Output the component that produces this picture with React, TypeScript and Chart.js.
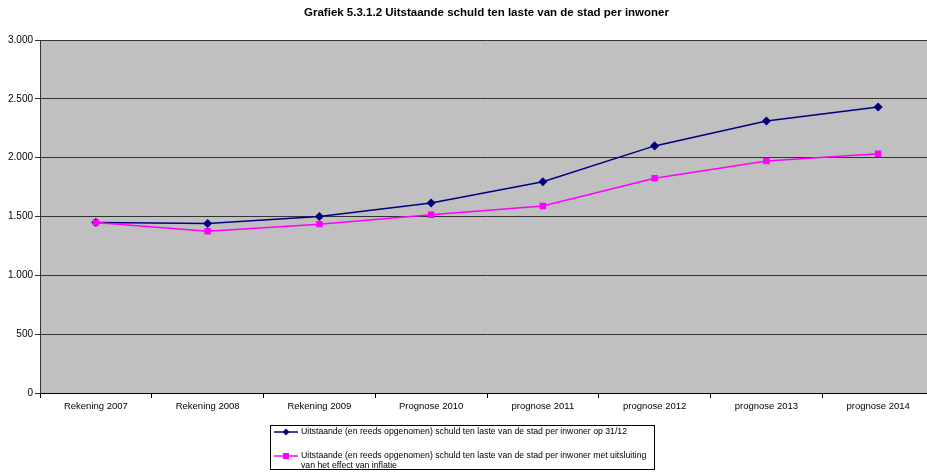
import React, { useEffect, useRef } from "react";
import { Chart, registerables } from "chart.js";

Chart.register(...registerables);

const titleText = "Grafiek 5.3.1.2 Uitstaande schuld ten laste van de stad per inwoner";
const categories = [
  "Rekening 2007",
  "Rekening 2008",
  "Rekening 2009",
  "Prognose 2010",
  "prognose 2011",
  "prognose 2012",
  "prognose 2013",
  "prognose 2014",
];
const debtPerInhabitant = [1450, 1440, 1500, 1615, 1795, 2100, 2312, 2431];
const debtExclInflation = [1448, 1375, 1435, 1515, 1590, 1825, 1972, 2034];
const legendLabels: string[][] = [
  ["Uitstaande (en reeds opgenomen) schuld ten laste van de stad per inwoner op 31/12"],
  [
    "Uitstaande (en reeds opgenomen) schuld ten laste van de stad per inwoner met uitsluiting",
    "van het effect van inflatie",
  ],
];
const yMin = 0;
const yMax = 3000;
const yStep = 500;

const FONT = "'Liberation Sans', Arial, sans-serif";
const NAVY = "#000080";
const MAGENTA = "#ff00ff";

const fmt = (v: number) => String(v).replace(/\B(?=(\d{3})+(?!\d))/g, ".");

const plotBg = {
  id: "plotBg",
  beforeDraw(chart: any) {
    const { ctx, chartArea } = chart;
    ctx.save();
    ctx.fillStyle = "#c0c0c0";
    ctx.fillRect(chartArea.left, chartArea.top, chartArea.right - chartArea.left, chartArea.bottom - chartArea.top);
    ctx.restore();
  },
};

const centeredTitle = {
  id: "centeredTitle",
  afterDraw(chart: any) {
    const { ctx } = chart;
    ctx.save();
    ctx.fillStyle = "#000";
    ctx.font = `bold 11.5px ${FONT}`;
    ctx.textAlign = "center";
    ctx.textBaseline = "middle";
    ctx.fillText(titleText, 486.5, 13);
    ctx.restore();
  },
};

function drawMarker(ctx: CanvasRenderingContext2D, style: string, x: number, y: number, r: number, color: string) {
  ctx.fillStyle = color;
  ctx.beginPath();
  if (style === "rectRot") {
    ctx.moveTo(x, y - r);
    ctx.lineTo(x + r, y);
    ctx.lineTo(x, y + r);
    ctx.lineTo(x - r, y);
    ctx.closePath();
  } else {
    ctx.rect(x - r, y - r, 2 * r, 2 * r);
  }
  ctx.fill();
}

const boxLegend = {
  id: "boxLegend",
  afterDraw(chart: any) {
    const { ctx } = chart;
    const bx = 270.5;
    const by = 425.5;
    const bw = 384;
    const bh = 44;
    ctx.save();
    ctx.fillStyle = "#ffffff";
    ctx.fillRect(bx, by, bw, bh);
    ctx.strokeStyle = "#000";
    ctx.lineWidth = 1;
    ctx.strokeRect(bx, by, bw, bh);
    const rows = [432, 456];
    const lineH = 9.5;
    chart.data.datasets.forEach((ds: any, i: number) => {
      const y = rows[i];
      ctx.strokeStyle = ds.borderColor;
      ctx.lineWidth = 1.5;
      ctx.beginPath();
      ctx.moveTo(274, y);
      ctx.lineTo(298, y);
      ctx.stroke();
      drawMarker(ctx, ds.pointStyle, 286, y, ds.pointStyle === "rectRot" ? 3.5 : 3, ds.pointBackgroundColor);
      ctx.fillStyle = "#000";
      ctx.font = `8.7px ${FONT}`;
      ctx.textBaseline = "middle";
      ctx.textAlign = "left";
      legendLabels[i].forEach((t, j) => ctx.fillText(t, 301, y + j * lineH));
    });
    ctx.restore();
  },
};

export default function App() {
  const ref = useRef<HTMLCanvasElement | null>(null);
  useEffect(() => {
    if (!ref.current) return;
    const chart = new Chart(ref.current, {
      type: "line",
      data: {
        labels: categories,
        datasets: [
          {
            label: legendLabels[0].join(" "),
            data: debtPerInhabitant,
            borderColor: NAVY,
            backgroundColor: NAVY,
            pointBackgroundColor: NAVY,
            pointBorderColor: NAVY,
            pointStyle: "rectRot",
            pointRadius: 3.5,
            borderWidth: 1.5,
            tension: 0,
            order: 1,
          } as any,
          {
            label: legendLabels[1].join(" "),
            data: debtExclInflation,
            borderColor: MAGENTA,
            backgroundColor: MAGENTA,
            pointBackgroundColor: MAGENTA,
            pointBorderColor: MAGENTA,
            pointStyle: "rect",
            pointRadius: 3.5,
            borderWidth: 1.5,
            tension: 0,
            order: 0,
          } as any,
        ],
      },
      options: {
        responsive: false,
        animation: false,
        devicePixelRatio: 1,
        layout: { padding: { left: 0, right: 39, top: 40, bottom: 60 } },
        plugins: {
          legend: { display: false },
          tooltip: { enabled: false },
          title: { display: false },
        },
        scales: {
          x: {
            type: "category",
            offset: true,
            grid: {
              offset: true,
              drawOnChartArea: false,
              drawTicks: true,
              tickLength: 5,
              color: "#000",
            },
            border: { color: "#000", width: 1 },
            ticks: {
              color: "#000",
              font: { family: FONT, size: 9.5 },
              padding: 3,
              maxRotation: 0,
              autoSkip: false,
            },
            afterFit: (s: any) => {
              s.height = 22;
            },
          },
          y: {
            min: yMin,
            max: yMax,
            grid: { color: "#333", tickLength: 5, lineWidth: 1 },
            border: { color: "#333", width: 1 },
            ticks: {
              stepSize: yStep,
              color: "#000",
              font: { family: FONT, size: 10 },
              padding: 2,
              callback: (v: any) => fmt(Number(v)),
            },
            afterFit: (s: any) => {
              s.width = 40;
            },
          },
        },
      },
      plugins: [plotBg, boxLegend, centeredTitle],
    });
    return () => chart.destroy();
  }, []);
  return (
    <div
      style={{
        position: "fixed",
        left: 0,
        top: 0,
        width: 927,
        height: 475,
        overflow: "hidden",
        background: "#fff",
      }}
    >
      <canvas ref={ref} width={973} height={475} style={{ width: 973, height: 475, display: "block" }} />
    </div>
  );
}
